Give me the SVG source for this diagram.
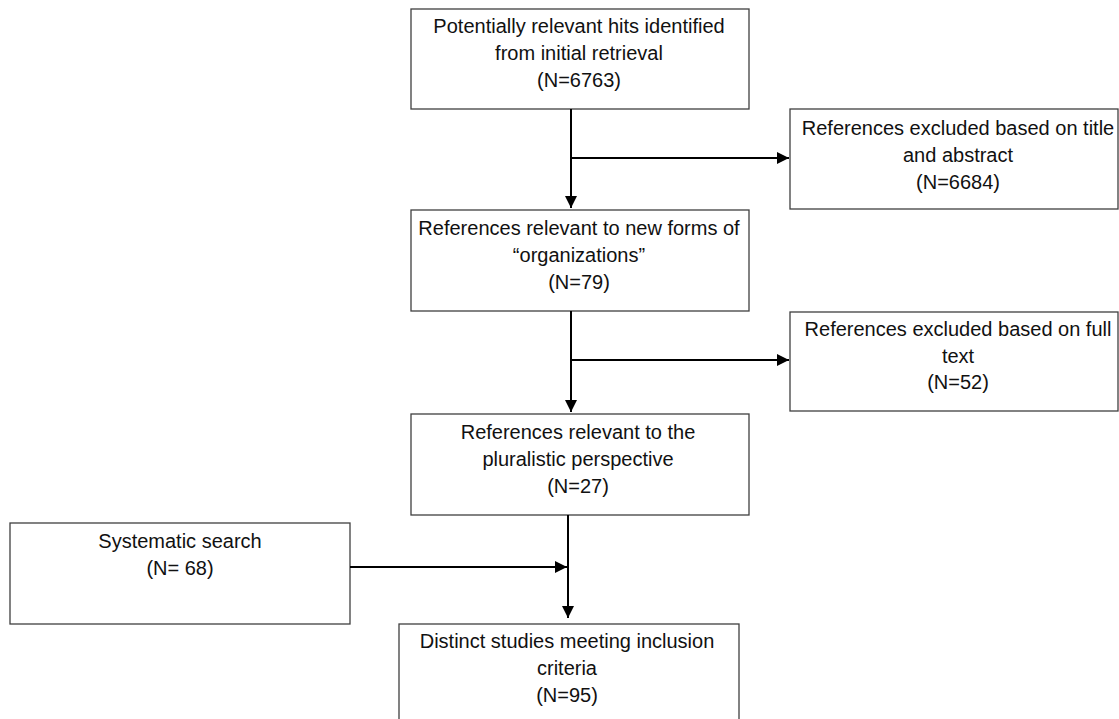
<svg xmlns="http://www.w3.org/2000/svg" width="1119" height="719" viewBox="0 0 1119 719">
<defs>
<style>
.box{fill:#fff;stroke:#3f3f3f;stroke-width:1.3}
.t{font-family:"Liberation Sans",Arial,sans-serif;font-size:20px;fill:#111;text-anchor:middle}
.c{stroke:#000;stroke-width:2;fill:none}
</style>
<marker id="ah" viewBox="0 0 10 10" refX="10" refY="5" markerWidth="12" markerHeight="12" markerUnits="userSpaceOnUse" orient="auto">
<path d="M0,0 L10,5 L0,10 Z" fill="#000"/>
</marker>
</defs>
<rect width="1119" height="719" fill="#fff"/>
<g id="n1"><rect class="box" x="411" y="9" width="338" height="100"/>
<text class="t" x="579" y="33">Potentially relevant hits identified</text>
<text class="t" x="579" y="60">from initial retrieval</text>
<text class="t" x="579" y="87">(N=6763)</text></g>
<g id="n2"><rect class="box" x="790" y="109" width="328" height="100"/>
<text class="t" x="958" y="135">References excluded based on title</text>
<text class="t" x="958" y="162">and abstract</text>
<text class="t" x="958" y="189">(N=6684)</text></g>
<g id="n3"><rect class="box" x="411" y="210" width="338" height="101"/>
<text class="t" x="579" y="235">References relevant to new forms of</text>
<text class="t" x="579" y="262">“organizations”</text>
<text class="t" x="579" y="289">(N=79)</text></g>
<g id="n4"><rect class="box" x="790" y="312" width="328" height="99"/>
<text class="t" x="958" y="336">References excluded based on full</text>
<text class="t" x="958" y="363">text</text>
<text class="t" x="958" y="389">(N=52)</text></g>
<g id="n5"><rect class="box" x="411" y="414" width="338" height="101"/>
<text class="t" x="578" y="439">References relevant to the</text>
<text class="t" x="578" y="466">pluralistic perspective</text>
<text class="t" x="578" y="493">(N=27)</text></g>
<g id="n6"><rect class="box" x="10" y="523" width="340" height="101"/>
<text class="t" x="180" y="548">Systematic search</text>
<text class="t" x="180" y="575">(N= 68)</text></g>
<g id="n7"><rect class="box" x="399" y="624" width="340" height="100"/>
<text class="t" x="567" y="648">Distinct studies meeting inclusion</text>
<text class="t" x="567" y="675">criteria</text>
<text class="t" x="567" y="702">(N=95)</text></g>
<g id="connectors">
<path class="c" d="M571,109 V208" marker-end="url(#ah)"/>
<path class="c" d="M571,158 H789" marker-end="url(#ah)"/>
<path class="c" d="M571,311 V412" marker-end="url(#ah)"/>
<path class="c" d="M571,360 H789" marker-end="url(#ah)"/>
<path class="c" d="M568,515 V618" marker-end="url(#ah)"/>
<path class="c" d="M350,567 H567" marker-end="url(#ah)"/>
</g>
</svg>
